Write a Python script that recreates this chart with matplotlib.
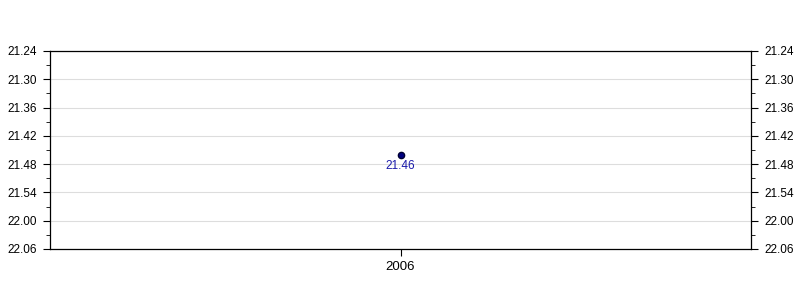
import matplotlib.pyplot as plt
from matplotlib.ticker import FixedLocator, FuncFormatter

plt.rcParams['font.family'] = ['Liberation Sans', 'DejaVu Sans']

years = [2006]
times_sec = [21 * 60 + 46]          # 21.46 (min.sec)
point_labels = ['21.46']

y_min, y_max = 21 * 60 + 24, 22 * 60 + 6
major = list(range(y_min, y_max + 1, 6))
minor = list(range(y_min + 3, y_max, 6))


def fmt(v, pos=None):
    v = int(round(v))
    return '%d.%02d' % (v // 60, v % 60)


fig = plt.figure(figsize=(8, 3), dpi=100)
ax = fig.add_axes([0.0625, 0.17, 0.87625, 0.66])

ax.plot(years, times_sec, 'o', markersize=4.5, color='#000080', markeredgecolor='#000033', zorder=3)
for x, y, t in zip(years, times_sec, point_labels):
    ax.annotate(t, (x, y), xytext=(0, -4), textcoords='offset points',
                ha='center', va='top', fontsize=8.5, color='#1a1aaa')

ax.set_xlim(2005.5, 2006.5)
ax.set_xticks(years)
ax.set_xticklabels([str(y) for y in years])
ax.set_ylim(y_max, y_min)
ax.yaxis.set_major_locator(FixedLocator(major))
ax.yaxis.set_minor_locator(FixedLocator(minor))
ax.yaxis.set_major_formatter(FuncFormatter(fmt))
ax.grid(axis='y', which='major', color='#dddddd', linewidth=0.8)
ax.set_axisbelow(True)

ax.tick_params(axis='y', which='both', left=True, right=True, labelleft=True, labelright=True,
               direction='out', labelsize=8.5)
ax.tick_params(axis='y', which='major', length=5, pad=4.5)
ax.tick_params(axis='y', which='minor', length=3)
ax.tick_params(axis='x', direction='out', length=5, labelsize=9.5)
for s in ax.spines.values():
    s.set_linewidth(0.9)

fig.savefig('out.png', dpi=100)
